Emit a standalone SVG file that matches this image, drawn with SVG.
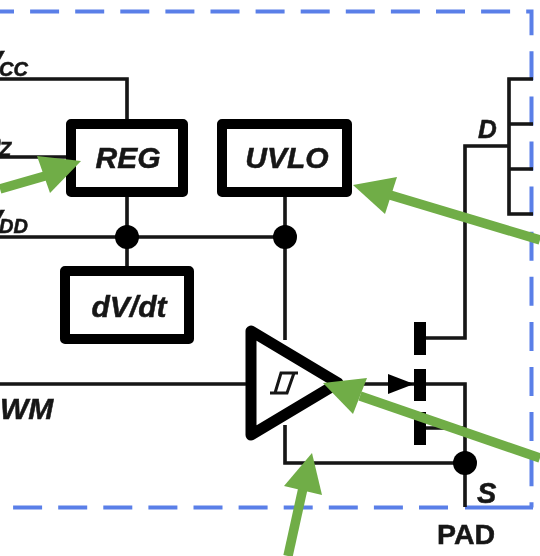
<svg xmlns="http://www.w3.org/2000/svg" width="540" height="556" viewBox="0 0 540 556">
<style>
.w{fill:none;stroke:#151515;stroke-width:3.6}
.b{fill:#fff;stroke:#000;stroke-width:10;stroke-linejoin:round}
.t{font-family:"Liberation Sans",Arial,sans-serif;font-weight:700;font-style:italic;fill:#151515;font-size:30px;stroke:#151515;stroke-width:.5}
.s{font-size:20px}
.v{font-size:28px}
.p{font-style:normal;font-size:28.500px}
.g{fill:#70ad47}
.gl{stroke:#70ad47;stroke-width:9.500;fill:none}
.bd{fill:none;stroke:#5a7fe8;stroke-width:4}
</style>
<defs><filter id="soft" x="-5%" y="-5%" width="110%" height="110%"><feGaussianBlur stdDeviation="0.6"/></filter></defs>
<rect width="540" height="556" fill="#fff"/>
<g id="boundary">
<path class="bd" d="M-15 11.500H531.500V507.500" stroke-dasharray="29 16.100"/>
<path class="bd" d="M533 507.500H465"/>
<path class="bd" d="M448 507.500H13" stroke-dasharray="29 16.100"/>
</g>
<g filter="url(#soft)">
<g id="connectors">
<path class="w" d="M0 79H127V122"/>
<path class="w" d="M0 157H70"/>
<path class="w" d="M0 237H285"/>
<path class="w" d="M127 195V270"/>
<path class="w" d="M285 195V340"/>
<path class="w" d="M0 384H250"/>
<path class="w" d="M285 425V463H465"/>
<path class="w" d="M330 384H465V507"/>
<path class="w" d="M425 428H465"/>
<path class="w" d="M425 338H465V146H509"/>
<path class="w" d="M533 79H509V214H533"/>
<path class="w" d="M509 124H533M509 169H533"/>
<circle cx="127" cy="237" r="12"/>
<circle cx="285" cy="237" r="12"/>
<circle cx="465" cy="463" r="12"/>
</g>
<g id="reg"><rect class="b" x="71" y="124" width="112" height="68"/><text class="t" x="128" y="168" text-anchor="middle">REG</text></g>
<g id="uvlo"><rect class="b" x="222" y="124" width="125" height="68"/><text class="t" x="287" y="168" text-anchor="middle">UVLO</text></g>
<g id="dvdt"><rect class="b" x="65" y="271" width="124" height="68"/><text class="t" x="129" y="317" text-anchor="middle">dV/dt</text></g>
<g id="driver">
<path d="M251 331V435L338 383Z" fill="#fff" stroke="#000" stroke-width="11" stroke-linejoin="round"/>
<path d="M270 393H287L294 373M298 373H281L275 393" fill="none" stroke="#151515" stroke-width="3"/>
</g>
<g id="mosfet">
<path d="M388 374L414 384L388 394Z"/>
<path d="M420 322V355M420 369V401M420 412V445" fill="none" stroke="#000" stroke-width="12"/>
</g>
<g id="labels">
<text class="t v" x="-16" y="70">V<tspan class="s" x="-1" y="76">CC</tspan></text>
<text class="t v" x="-19" y="153">D<tspan class="s" x="-1" y="156">Z</tspan></text>
<text class="t v" x="-16" y="229">V<tspan class="s" x="-1" y="233">DD</tspan></text>
<text class="t" x="0" y="419">WM</text>
<text class="t" x="478" y="138" style="font-size:26px">D</text>
<text class="t" x="477" y="503" style="font-size:29px">S</text>
<text class="t p" x="437" y="544">PAD</text>
</g>
</g>
<g id="callouts">
<path class="gl" d="M0 189L45 176"/>
<polygon class="g" points="81,161 37,156 50,193"/>
<path class="gl" d="M540 240L390 195"/>
<polygon class="g" points="353,185 397,177 385,214"/>
<path class="gl" d="M540 458L360 396"/>
<polygon class="g" points="323,383 367,378 353,414"/>
<path class="gl" d="M288 556L303 488"/>
<polygon class="g" points="312,453 284,486 322,495"/>
</g>
</svg>
